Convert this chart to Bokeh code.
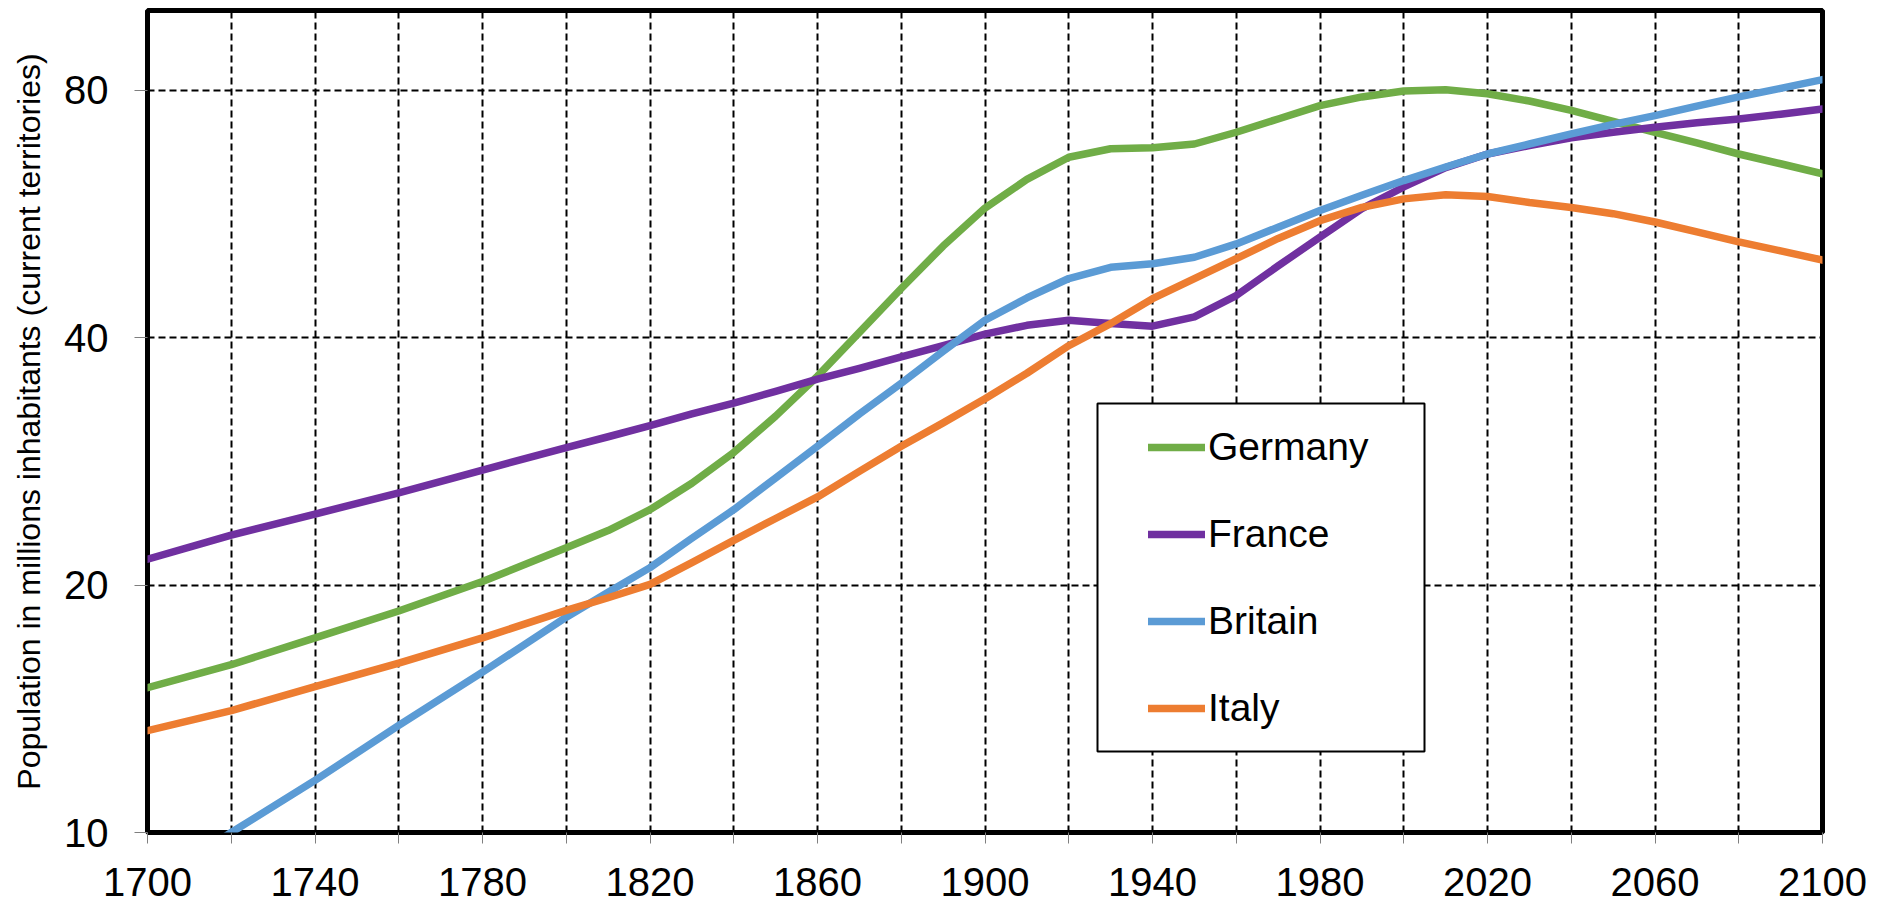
from bokeh.plotting import figure
from bokeh.models import (Range1d, FixedTicker, NumeralTickFormatter,
                          Legend, LegendItem, BoxAnnotation)
from bokeh.embed import file_html
from bokeh.resources import INLINE

years = [1700, 1720, 1740, 1760, 1780, 1800, 1810, 1820, 1830, 1840, 1850, 1860, 1870,
         1880, 1890, 1900, 1910, 1920, 1930, 1940, 1950, 1960, 1970, 1980, 1990, 2000,
         2010, 2020, 2030, 2040, 2050, 2060, 2070, 2080, 2090, 2100]

germany = [15.0, 16.0, 17.25, 18.6, 20.2, 22.2, 23.3, 24.7, 26.6, 29.0, 32.1, 35.9, 40.6,
           45.9, 51.7, 57.5, 62.3, 66.3, 67.9, 68.1, 68.8, 71.1, 73.8, 76.6, 78.5, 79.8,
           80.1, 79.2, 77.6, 75.6, 73.3, 71.1, 69.0, 66.9, 65.1, 63.3]

france = [21.5, 23.0, 24.4, 25.9, 27.6, 29.4, 30.3, 31.26, 32.3, 33.3, 34.4, 35.6, 36.7,
          37.9, 39.1, 40.4, 41.4, 42.0, 41.6, 41.3, 42.4, 45.0, 48.9, 53.0, 57.4, 61.0,
          64.4, 66.9, 68.5, 70.0, 71.1, 72.1, 73.0, 73.8, 74.8, 75.9]

britain = [8.6, 10.0, 11.57, 13.5, 15.67, 18.28, 19.6, 21.0, 22.8, 24.7, 27.0, 29.5, 32.3,
           35.2, 38.5, 42.0, 44.7, 47.2, 48.7, 49.2, 50.1, 52.0, 54.5, 57.1, 59.6, 62.1,
           64.5, 66.9, 68.8, 70.8, 72.7, 74.5, 76.5, 78.5, 80.4, 82.4]

italy = [13.3, 14.07, 15.05, 16.07, 17.25, 18.63, 19.3, 20.04, 21.3, 22.67, 24.1, 25.6, 27.5,
         29.5, 31.5, 33.7, 36.2, 39.1, 41.6, 44.6, 47.2, 49.9, 52.8, 55.5, 57.6, 59.0,
         59.7, 59.4, 58.4, 57.6, 56.6, 55.3, 53.8, 52.3, 51.0, 49.7]

series_names = ["Germany", "France", "Britain", "Italy"]
series_values = [germany, france, britain, italy]
series_colors = ["#70AD47", "#7030A0", "#5B9BD5", "#ED7D31"]

x_label_ticks = [1700, 1740, 1780, 1820, 1860, 1900, 1940, 1980, 2020, 2060, 2100]
x_minor_ticks = [1720, 1760, 1800, 1840, 1880, 1920, 1960, 2000, 2040, 2080]
y_ticks = [10, 20, 40, 80]
y_label = "Population in millions inhabitants (current territories)"

FONT = "Liberation Sans"

p = figure(width=1885, height=904, x_range=Range1d(1700, 2100), y_range=Range1d(10, 100),
           y_axis_type="log", output_backend="svg", toolbar_location=None,
           min_border_left=147, min_border_right=63, min_border_top=10, min_border_bottom=72)

p.background_fill_color = "white"
p.border_fill_color = "white"
p.outline_line_color = "black"
p.outline_line_width = 5

# X axis
xticker = FixedTicker(ticks=x_label_ticks, minor_ticks=x_minor_ticks)
p.xaxis.ticker = xticker
p.xgrid.ticker = xticker
p.xaxis.axis_line_color = None
p.xaxis.major_tick_in = 0
p.xaxis.major_tick_out = 11
p.xaxis.minor_tick_in = 0
p.xaxis.minor_tick_out = 11
p.xaxis.major_tick_line_color = "#7f7f7f"
p.xaxis.minor_tick_line_color = "#7f7f7f"
p.xaxis.major_label_text_font = FONT
p.xaxis.major_label_text_font_size = "40px"
p.xaxis.major_label_text_color = "black"
p.xaxis.major_label_standoff = 24

# Y axis
p.yaxis.ticker = FixedTicker(ticks=y_ticks, minor_ticks=[])
p.yaxis.formatter = NumeralTickFormatter(format="0")
p.yaxis.axis_line_color = None
p.yaxis.major_tick_in = 0
p.yaxis.major_tick_out = 13
p.yaxis.major_tick_line_color = "#7f7f7f"
p.yaxis.minor_tick_line_color = None
p.yaxis.major_label_text_font = FONT
p.yaxis.major_label_text_font_size = "40px"
p.yaxis.major_label_text_color = "black"
p.yaxis.major_label_standoff = 26
p.yaxis.axis_label = y_label
p.yaxis.axis_label_text_font = FONT
p.yaxis.axis_label_text_font_size = "32px"
p.yaxis.axis_label_text_font_style = "normal"
p.yaxis.axis_label_text_color = "black"
p.yaxis.axis_label_standoff = 14

# Grids
p.xgrid.grid_line_color = "black"
p.xgrid.grid_line_width = 2
p.xgrid.grid_line_dash = "7 4"
p.xgrid.minor_grid_line_color = "black"
p.xgrid.minor_grid_line_width = 2
p.xgrid.minor_grid_line_dash = "7 4"
p.ygrid.ticker = FixedTicker(ticks=y_ticks, minor_ticks=[])
p.ygrid.grid_line_color = "black"
p.ygrid.grid_line_width = 2
p.ygrid.grid_line_dash = "7 4"

renderers = []
for name, vals, col in zip(series_names, series_values, series_colors):
    r = p.line(years, vals, line_color=col, line_width=7.5, line_cap="round", line_join="round")
    renderers.append(r)

box = BoxAnnotation(left=950, right=1277, bottom=81, top=429,
                    left_units="screen", right_units="screen",
                    bottom_units="screen", top_units="screen",
                    fill_color="white", fill_alpha=1.0,
                    line_color="black", line_width=2, line_alpha=1.0)
p.add_layout(box)

legend = Legend(items=[LegendItem(label=n, renderers=[r]) for n, r in zip(series_names, renderers)],
                location=(1001, 102), orientation="vertical",
                glyph_width=57, glyph_height=44, label_height=44, spacing=43,
                padding=0, margin=0, label_standoff=3,
                label_text_font=FONT, label_text_font_size="39px", label_text_color="black",
                border_line_alpha=0, background_fill_alpha=0)
p.add_layout(legend, "center")

open("out.html", "w").write(file_html(p, INLINE))
